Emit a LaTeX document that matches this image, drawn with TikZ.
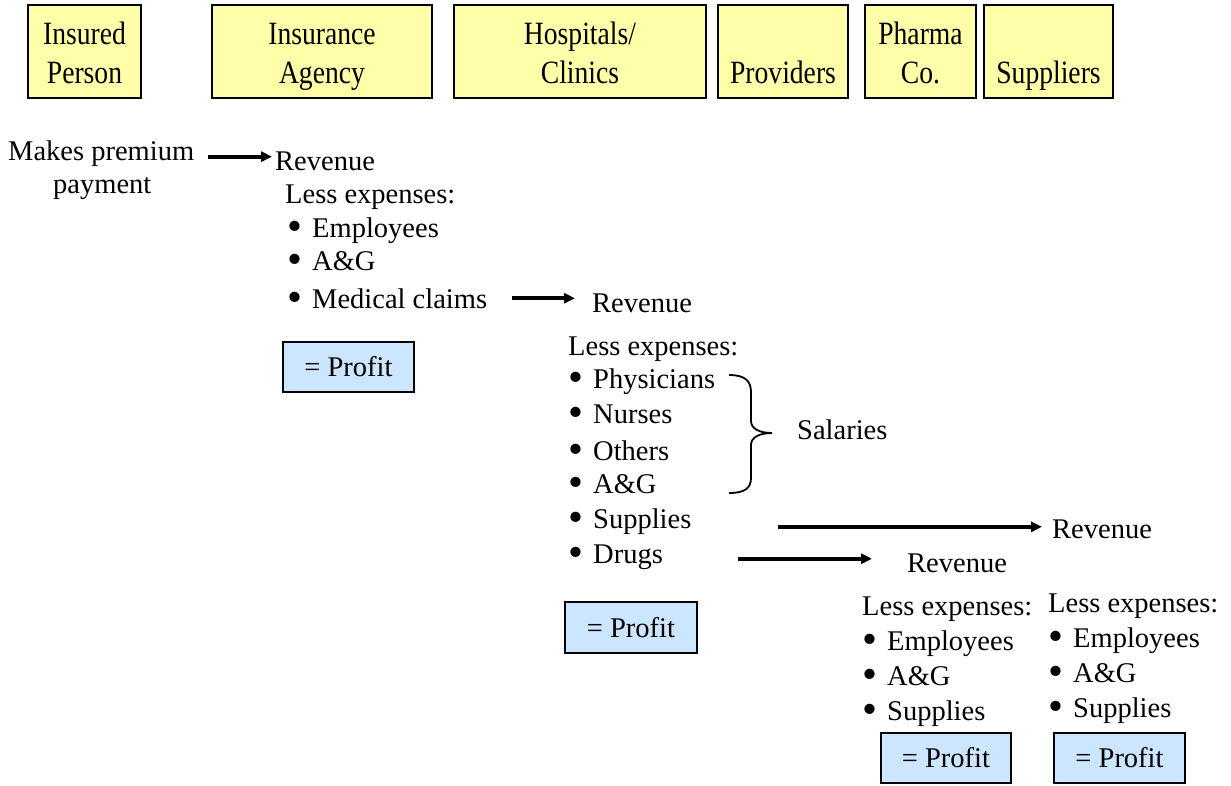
\documentclass[tikz,border=0pt]{standalone}
\usepackage{fontspec}
\setmainfont{Liberation Serif}
\newfontfamily\boxfam[FakeStretch=0.85]{Liberation Serif}
\usepackage{graphicx}
\usepackage{tikz}
\usetikzlibrary{arrows.meta}
\usepackage{xcolor}
\definecolor{pale_yellow}{HTML}{FFFFAA}
\definecolor{pale_blue}{HTML}{CCE6FF}
\newcommand{\bodyfont}{\fontsize{28.5}{34}\selectfont}
\newcommand{\boxfont}{\boxfam\fontsize{32.5}{39}\selectfont}
\newcommand{\twoline}[2]{\rule{0pt}{31.5pt}#1\\#2\rule[-7.5pt]{0pt}{7.5pt}}
\newcommand{\itm}[1]{\makebox[25pt][l]{\smash{\raisebox{-3.5pt}{\scalebox{1.5}{\textbullet}}}}#1}
\tikzset{
	party/.style={draw, line width=1.5pt, fill=pale_yellow, minimum height=93pt, inner sep=0pt, align=center, font=\boxfont},
	profit/.style={draw, line width=1.5pt, fill=pale_blue, minimum height=50pt, inner sep=0pt, font=\bodyfont},
	txt/.style={anchor=base west, inner sep=0pt, font=\bodyfont},
	flow/.style={line width=4pt, -{Triangle[length=11pt, width=10pt]}}
}

\begin{document}
\begin{tikzpicture}[x=1pt, y=-1pt]
	\useasboundingbox (0, 0) rectangle (1231, 785);
	% the parties
	\node[party, minimum width=113pt] (person) at (84.5, 51.5) {\twoline{Insured}{Person}};
	\node[party, minimum width=220pt] (agency) at (322, 51.5) {\twoline{Insurance}{Agency}};
	\node[party, minimum width=252pt] (hospital) at (580, 51.5) {\twoline{Hospitals/}{Clinics}};
	\node[party, minimum width=130pt] (provider) at (783, 51.5) {\twoline{}{Providers}};
	\node[party, minimum width=111pt] (pharma) at (920.5, 51.5) {\twoline{Pharma}{Co.}};
	\node[party, minimum width=129pt] (supplier) at (1048.5, 51.5) {\twoline{}{Suppliers}};
	% insured person
	\node[txt] (mp) at (8, 160) {Makes premium};
	\node[txt] (mpb) at (53, 193) {payment};
	% insurance agency
	\node[txt] (rev1) at (275, 170) {Revenue};
	\node[txt] (le1) at (285, 203) {Less expenses:};
	\node[txt] (ae) at (287, 237) {\itm{Employees}};
	\node[txt] (ag) at (287, 270) {\itm{A\&G}};
	\node[txt] (mc) at (287, 308) {\itm{Medical claims}};
	\node[profit, minimum width=131pt] (pr1) at (348.5, 367) {= Profit};
	% hospitals / clinics
	\node[txt] (rev2) at (592, 312) {Revenue};
	\node[txt] (le2) at (568, 355) {Less expenses:};
	\node[txt] (hp) at (568, 388) {\itm{Physicians}};
	\node[txt] (hn) at (568, 423) {\itm{Nurses}};
	\node[txt] (ho) at (568, 460) {\itm{Others}};
	\node[txt] (hg) at (568, 493) {\itm{A\&G}};
	\node[txt] (hs) at (568, 528) {\itm{Supplies}};
	\node[txt] (hd) at (568, 563) {\itm{Drugs}};
	\node[profit, minimum width=132pt, minimum height=51pt] (pr2) at (631, 627.5) {= Profit};
	\draw[line width=1.8pt] (729, 375) .. controls (745, 375) and (751, 381) .. (751, 392)
		-- (751, 421) .. controls (751, 429) and (760, 433) .. (772, 433)
		.. controls (760, 433) and (751, 437) .. (751, 445)
		-- (751, 478) .. controls (751, 488) and (745, 493) .. (729, 493);
	\node[txt] (sal) at (797, 439) {Salaries};
	% pharma co.
	\node[txt] (rev3) at (907, 572) {Revenue};
	\node[txt] (le3) at (862, 615) {Less expenses:};
	\node[txt] (ce) at (862, 650) {\itm{Employees}};
	\node[txt] (cg) at (862, 685) {\itm{A\&G}};
	\node[txt] (cs) at (862, 720) {\itm{Supplies}};
	\node[profit, minimum width=130pt] (pr3) at (946, 758) {= Profit};
	% suppliers
	\node[txt] (rev4) at (1052, 538) {Revenue};
	\node[txt] (le4) at (1048, 612) {Less expenses:};
	\node[txt] (se) at (1048, 647) {\itm{Employees}};
	\node[txt] (sg) at (1048, 682) {\itm{A\&G}};
	\node[txt] (ss) at (1048, 717) {\itm{Supplies}};
	\node[profit, minimum width=131pt] (pr4) at (1119.5, 758) {= Profit};
	% money flows
	\draw[flow] ([xshift=14pt, yshift=-3.5pt]mp.east) -- ([xshift=-3pt, yshift=-3.5pt]mp.east -| rev1.west);
	\draw[flow] ([xshift=25pt]mc.east) -- ([xshift=-17pt]mc.east -| rev2.west);
	\draw[flow] ([xshift=86pt, yshift=2pt]hs.east |- rev4.west) -- ([xshift=-10pt, yshift=2pt]rev4.west);
	\draw[flow] ([xshift=75pt, yshift=-2pt]hd.east) -- ([xshift=-35pt, yshift=-2pt]hd.east -| rev3.west);
\end{tikzpicture}
\end{document}
